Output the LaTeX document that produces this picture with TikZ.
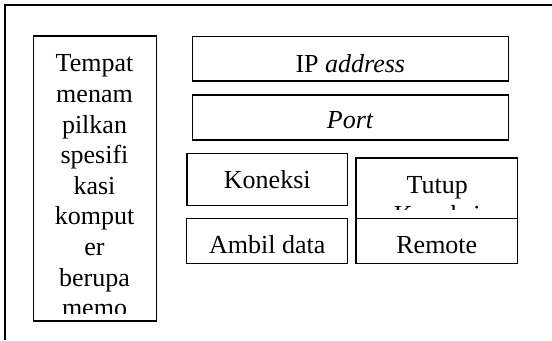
\documentclass[tikz,border=0pt]{standalone}
\usepackage{fontspec}
\setmainfont{Liberation Serif}
\begin{document}
\begin{tikzpicture}[x=1bp,y=-1bp,
  frame/.style={line width=1.5bp},
  box/.style={draw, line width=1.5bp, fill=white, inner sep=0pt, outer sep=0pt, anchor=north west},
  lbl/.style={font=\fontsize{26bp}{30.6bp}\selectfont, inner sep=0pt, outer sep=0pt, anchor=base, align=center}]
\useasboundingbox (0,0) rectangle (552,340);
% page frame (top and left edges)
\coordinate (fbl) at (5,340);
\coordinate (ftl) at (5,5);
\coordinate (ftr) at (552,5);
\draw[frame] (fbl) -- (ftl) -- (ftr);

% boxes
\node[box, minimum width=123.3bp, minimum height=285.2bp] (spec) at (33.3,36) {};
\node[box, minimum width=316bp, minimum height=44.3bp] (ip) at (192.3,36.7) {};
\node[box, minimum width=316bp, minimum height=45bp] (port) at (192.3,95) {};
\node[box, minimum width=160.7bp, minimum height=52.4bp] (kon) at (187,153.3) {};
\node[box, minimum width=161.5bp, minimum height=60.5bp] (tutup) at (356,157.8) {};
\node[box, minimum width=161bp, minimum height=45bp] (ambil) at (186.7,218.3) {};
\node[box, minimum width=161.5bp, minimum height=45bp] (remote) at (356,218.3) {};

% single-line labels
\node[lbl] (iptxt) at (350.3,72) {IP \textit{address}};
\node[lbl] (porttxt) at (350.3,128.6) {\textit{Port}};
\node[lbl] (kontxt) at (267.3,188.2) {Koneksi};
\node[lbl] (ambiltxt) at (267.2,253.3) {Ambil data};
\node[lbl] (remotetxt) at (436.8,253.3) {Remote};

% text clipped by the inner margin of its box (base anchor = last line)
\begin{scope}
  \clip (34,37) rectangle (156,313.5);
  \node[lbl] (spectxt) at (94.5,316.6) {Tempat\\menam\\pilkan\\spesifi\\kasi\\komput\\er\\berupa\\memo};
\end{scope}
\begin{scope}
  \clip (357,158.5) rectangle (517,209.5);
  \node[lbl] (tutuptxt) at (437.3,223.9) {Tutup\\Koneksi};
\end{scope}
\end{tikzpicture}
\end{document}
